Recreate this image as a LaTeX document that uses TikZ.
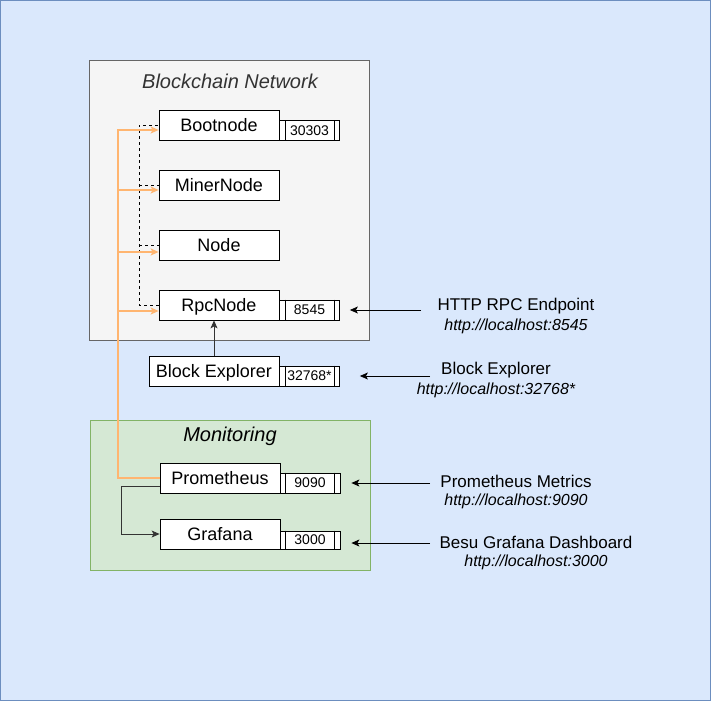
\documentclass[tikz,border=0pt]{standalone}
\usepackage{fontspec}
\setmainfont{Liberation Sans}
\usetikzlibrary{arrows.meta,calc}
\definecolor{bgblue}{HTML}{DAE8FC}
\definecolor{bgborder}{HTML}{6C8EBF}
\definecolor{grayfill}{HTML}{F5F5F5}
\definecolor{grayline}{HTML}{666666}
\definecolor{greenfill}{HTML}{D5E8D4}
\definecolor{greenline}{HTML}{82B366}
\definecolor{orangeline}{HTML}{FFB570}
\definecolor{darktext}{HTML}{333333}
\tikzset{
  box/.style={draw=black, fill=white, line width=0.8pt, minimum height=30pt, inner sep=0pt,
    font=\fontsize{18}{20}\selectfont, text depth=0pt, yshift=0pt},
  portbox/.style={draw=black, fill=white, line width=0.8pt, minimum width=60pt, inner sep=0pt,
    font=\fontsize{14}{16}\selectfont},
  tip/.style={-{Stealth[length=8pt,width=7pt,inset=2pt]}},
  orangearrow/.style={tip, draw=orangeline, line width=1.2pt},
  dashline/.style={draw=black, line width=0.8pt, dash pattern=on 3pt off 3pt},
  extarrow/.style={tip, draw=black, line width=0.8pt},
  desc/.style={font=\fontsize{17}{20}\selectfont, inner sep=0pt},
  url/.style={font=\fontsize{16}{19}\selectfont\itshape, inner sep=0pt},
  grouptitle/.style={font=\fontsize{20}{24}\selectfont\itshape, inner sep=0pt},
}
\newcommand{\portlines}[1]{%
  \draw[line width=0.8pt] ([xshift=6pt]#1.north west) -- ([xshift=6pt]#1.south west);
  \draw[line width=0.8pt] ([xshift=-6pt]#1.north east) -- ([xshift=-6pt]#1.south east);}
\begin{document}
\begin{tikzpicture}[x=1pt,y=-1pt]
\useasboundingbox (0,0) rectangle (711,701);
\draw[fill=bgblue, draw=bgborder, line width=1pt] (0.5,0.5) rectangle (710.5,700.5);

% groups
\draw[fill=grayfill, draw=grayline, line width=0.8pt] (89,60) rectangle (369,340);
\node[grouptitle, text=darktext] (bctitle) at (230,81) {Blockchain Network};
\draw[fill=greenfill, draw=greenline, line width=0.8pt] (90,420) rectangle (370,570);
\node[grouptitle, text=black] (montitle) at (230,436) {Monitoring};

% nodes
\node[box, minimum width=120pt] (boot) at (219,125) {Bootnode};
\node[box, minimum width=120pt] (miner) at (219,185) {MinerNode};
\node[box, minimum width=120pt] (plain) at (219,245) {Node};
\node[box, minimum width=120pt] (rpc) at (219,305) {RpcNode};
\node[box, minimum width=130pt] (explorer) at (214,371) {Block Explorer};
\node[box, minimum width=120pt] (prom) at (220,478) {Prometheus};
\node[box, minimum width=120pt] (graf) at (220,534) {Grafana};

% ports
\node[portbox, minimum height=20pt] (p30303) at (309.5,130.5) {30303};
\portlines{p30303}
\node[portbox, minimum height=20pt] (p8545) at (309.5,310) {8545};
\portlines{p8545}
\node[portbox, minimum height=20pt] (p32768) at (309.5,376) {32768*};
\portlines{p32768}
\node[portbox, minimum height=20pt] (p9090) at (310,483) {9090};
\portlines{p9090}
\node[portbox, minimum height=18pt] (p3000) at (310,540) {3000};
\portlines{p3000}

% dashed links between chain nodes
\draw[dashline] (rpc.west) -- (139,305) |- (boot.west);
\draw[dashline] (139,185) -- (miner.west);
\draw[dashline] (139,245) -- (plain.west);

% orange prometheus scrape links
\draw[orangearrow] (prom.west) -- (118,478) |- ([yshift=-5pt]boot.west);
\draw[orangearrow] (118,190) -- ([yshift=-5pt]miner.west);
\draw[orangearrow] (118,252) -- ([yshift=-7pt]plain.west);
\draw[orangearrow] (118,311) -- ([yshift=-6pt]rpc.west);

% explorer -> rpc
\draw[tip, draw=darktext, line width=0.8pt] (explorer.north) -- (rpc.south -| explorer.north);

% prometheus -> grafana
\draw[tip, draw=darktext, line width=0.8pt] ([yshift=-8pt]prom.west) -- (121,486) |- (graf.west);

% external endpoints
\coordinate (e1) at (421,310);
\coordinate (e2) at (430,376);
\coordinate (e3) at (430,483);
\coordinate (e4) at (430,543);
\draw[extarrow] (e1) -- ([xshift=10pt]p8545.east);
\draw[extarrow] (e2) -- ([xshift=20pt]p32768.east);
\draw[extarrow] (e3) -- ([xshift=11pt]p9090.east |- e3);
\draw[extarrow] (e4) -- ([xshift=11pt]p3000.east |- e4);

\node[desc] (d1) at (516,306.5) {HTTP RPC Endpoint};
\node[url] (u1) at (516,326.5) {http://localhost:8545};
\node[desc] (d2) at (496,370.5) {Block Explorer};
\node[url] (u2) at (496,390) {http://localhost:32768*};
\node[desc] (d3) at (516,481.5) {Prometheus Metrics};
\node[url] (u3) at (516,501.5) {http://localhost:9090};
\node[desc] (d4) at (536,542) {Besu Grafana Dashboard};
\node[url] (u4) at (536,562) {http://localhost:3000};
\end{tikzpicture}
\end{document}
